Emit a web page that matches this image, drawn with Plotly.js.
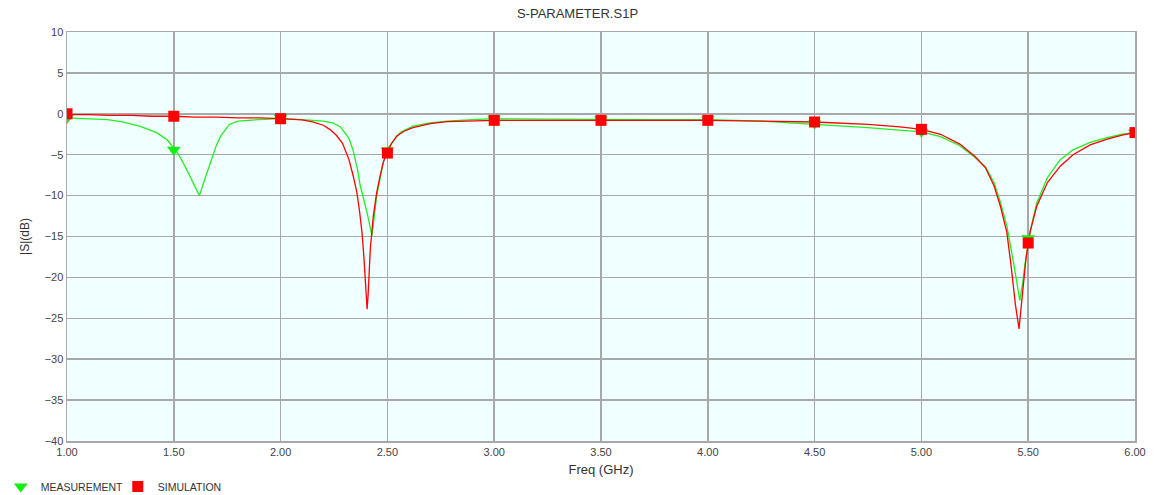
<!DOCTYPE html>
<html>
<head>
<meta charset="utf-8">
<script src="https://cdn.plot.ly/plotly-3.0.1.min.js"></script>
<style>html,body{margin:0;padding:0;background:#fff;}#chart{width:1155px;height:495px;}</style>
</head>
<body>
<div id="chart"></div>
<script>
// Simulation curve (GHz, dB)
const simFreq = [1.00,1.10,1.20,1.30,1.40,1.50,1.60,1.70,1.80,1.90,2.00,2.10,2.15,2.20,2.23,2.26,2.29,2.32,2.34,2.357,2.37,2.381,2.39,2.397,2.405,2.41,2.42,2.434,2.45,2.466,2.48,2.497,2.52,2.544,2.58,2.62,2.70,2.78,2.90,3.00,3.25,3.50,3.75,4.00,4.25,4.50,4.75,4.90,5.00,5.09,5.18,5.25,5.30,5.34,5.37,5.40,5.42,5.44,5.457,5.475,5.49,5.51,5.54,5.59,5.65,5.71,5.79,5.87,5.94,6.00];
const simDb   = [-0.1,-0.1,-0.2,-0.2,-0.3,-0.3,-0.4,-0.4,-0.5,-0.5,-0.6,-0.75,-1.0,-1.4,-1.9,-2.6,-3.6,-5.6,-7.6,-9.6,-12.0,-14.5,-17.5,-21.0,-23.9,-22.0,-16.5,-12.5,-9.6,-7.6,-6.0,-4.8,-3.6,-2.7,-2.1,-1.7,-1.2,-0.95,-0.85,-0.8,-0.8,-0.8,-0.8,-0.8,-0.9,-1.0,-1.3,-1.6,-1.9,-2.5,-3.7,-5.2,-6.6,-8.8,-11.3,-14.5,-18.6,-23.3,-26.3,-21.8,-17.6,-14.3,-11.3,-8.4,-6.4,-5.0,-3.8,-3.1,-2.6,-2.3];

// Measurement curve (GHz, dB)
const measFreq = [1.00,1.10,1.19,1.26,1.34,1.42,1.47,1.50,1.53,1.56,1.59,1.62,1.645,1.67,1.70,1.72,1.76,1.80,1.84,1.90,2.00,2.10,2.20,2.245,2.28,2.32,2.34,2.36,2.373,2.39,2.405,2.428,2.45,2.48,2.505,2.56,2.62,2.70,2.78,2.90,3.00,3.25,3.50,3.75,4.00,4.25,4.50,4.75,5.00,5.09,5.18,5.25,5.30,5.34,5.37,5.40,5.43,5.447,5.461,5.475,5.484,5.508,5.54,5.59,5.65,5.71,5.79,5.87,5.94,6.00];
const measDb   = [-0.5,-0.6,-0.7,-1.0,-1.5,-2.3,-3.2,-4.2,-5.3,-6.8,-8.5,-10.0,-8.0,-6.0,-3.8,-2.7,-1.3,-0.9,-0.8,-0.7,-0.6,-0.7,-0.9,-1.1,-1.6,-3.0,-4.5,-6.8,-8.8,-10.5,-12.1,-14.9,-10.0,-6.0,-4.1,-2.3,-1.5,-1.1,-0.9,-0.7,-0.6,-0.65,-0.7,-0.7,-0.7,-0.9,-1.3,-1.7,-2.2,-2.8,-3.9,-5.3,-6.5,-8.4,-10.8,-13.7,-18.0,-20.5,-22.8,-20.5,-18.6,-14.5,-10.9,-7.8,-5.6,-4.4,-3.5,-2.9,-2.5,-2.3];

// Marker points every 0.5 GHz
const markFreq = [1.0,1.5,2.0,2.5,3.0,3.5,4.0,4.5,5.0,5.5,6.0];
const simMarkDb  = [0.0,-0.3,-0.6,-4.8,-0.8,-0.8,-0.8,-1.0,-1.9,-15.8,-2.3];
const measMarkDb = [-0.5,-4.4,-0.5,-4.5,-0.6,-0.7,-0.7,-1.2,-2.2,-15.2,-2.3];

const xTicks = [1.0,1.5,2.0,2.5,3.0,3.5,4.0,4.5,5.0,5.5,6.0];
const xTickText = ["1.00","1.50","2.00","2.50","3.00","3.50","4.00","4.50","5.00","5.50","6.00"];
const yTicks = [10,5,0,-5,-10,-15,-20,-25,-30,-35,-40];

const green = '#22ee22';
const red = '#ff0000';

const traces = [
  {x: measFreq, y: measDb, mode: 'lines', line: {color: green, width: 1.3}, showlegend: false, legendgroup: 'm', hoverinfo: 'skip'},
  {x: simFreq, y: simDb, mode: 'lines', line: {color: red, width: 1.3}, showlegend: false, legendgroup: 's', hoverinfo: 'skip'},
  {x: markFreq, y: measMarkDb, mode: 'markers', name: 'MEASUREMENT', legendgroup: 'm',
   marker: {symbol: 'triangle-down', color: '#11ee11', size: 12}},
  {x: markFreq, y: simMarkDb, mode: 'markers', name: 'SIMULATION', legendgroup: 's',
   marker: {symbol: 'square', color: red, size: 11}}
];

const layout = {
  width: 1155, height: 495,
  margin: {l: 67, r: 20, t: 32, b: 54, autoexpand: false},
  paper_bgcolor: '#ffffff',
  plot_bgcolor: '#f0ffff',
  font: {family: 'Liberation Sans, Arial, sans-serif', color: '#333333', size: 11},
  title: {text: 'S-PARAMETER.S1P', x: 0.5, xanchor: 'center', y: 0.973, yanchor: 'middle',
          font: {family: 'Liberation Sans, Arial, sans-serif', size: 13, color: '#333333'}},
  xaxis: {
    range: [1.0, 6.0], tickvals: xTicks, ticktext: xTickText, automargin: false,
    showgrid: true, gridcolor: '#a8a8a8', gridwidth: 1.5,
    zeroline: false, showline: true, linecolor: '#a8a8a8', linewidth: 1.5, mirror: true,
    ticks: '', ticklen: 0,
    tickfont: {size: 11, color: '#444444'},
    title: {text: 'Freq (GHz)', font: {size: 13, color: '#333333'}, standoff: 8}
  },
  yaxis: {
    range: [-40, 10], tickvals: yTicks, automargin: false,
    showgrid: true, gridcolor: '#a8a8a8', gridwidth: 1.5,
    zeroline: false, showline: true, linecolor: '#a8a8a8', linewidth: 1.5, mirror: true,
    ticks: '', ticklen: 0,
    tickfont: {size: 11, color: '#444444'},
    title: {text: '|S|(dB)', font: {size: 12, color: '#333333'}, standoff: 12}
  },
  legend: {orientation: 'h', x: -0.062, xanchor: 'left', xref: 'paper', y: -0.076, yanchor: 'top',
           font: {size: 10.5, color: '#333333'}, bgcolor: 'rgba(0,0,0,0)', itemwidth: 30, tracegroupgap: 0,
           entrywidth: 72, entrywidthmode: 'pixels'},
  showlegend: true
};

Plotly.newPlot('chart', traces, layout, {displayModeBar: false, staticPlot: true});
</script>
</body>
</html>
